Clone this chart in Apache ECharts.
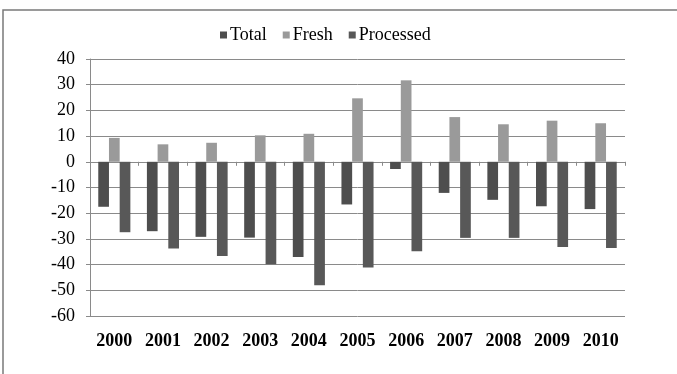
<!DOCTYPE html>
<html>
<head>
<meta charset="utf-8">
<script src="https://cdn.jsdelivr.net/npm/echarts@6/dist/echarts.min.js"></script>
<style>
  html, body { margin: 0; padding: 0; background: #fff; }
  #chart { width: 677px; height: 374px; }
</style>
</head>
<body>
<div id="chart"></div>
<script>
// Trade balance by year: total, fresh and processed
const years = ['2000', '2001', '2002', '2003', '2004', '2005', '2006', '2007', '2008', '2009', '2010'];
const total = [-17.5, -27.0, -29.2, -29.5, -37.0, -16.6, -2.8, -12.1, -14.8, -17.3, -18.4];
const fresh = [9.3, 6.8, 7.4, 10.3, 10.9, 24.7, 31.7, 17.4, 14.6, 16.0, 15.0];
const processed = [-27.4, -33.7, -36.7, -39.9, -48.0, -41.1, -34.8, -29.6, -29.6, -33.2, -33.5];
const yTicks = { min: -60, max: 40, step: 10 };

const serif = '"Liberation Serif", "DejaVu Serif", serif';
const gridColor = '#8a8a8a';

const chart = echarts.init(document.getElementById('chart'), null, { renderer: 'canvas' });

chart.setOption({
  animation: false,
  backgroundColor: '#fff',
  graphic: [{
    type: 'polyline',
    shape: { points: [[3, 380], [3, 10], [680, 10]] },
    style: { stroke: '#7a7a7a', lineWidth: 1.5, fill: null }
  }],
  legend: {
    top: 21,
    left: 215,
    itemWidth: 7,
    itemHeight: 7,
    itemGap: 16,
    icon: 'rect',
    textStyle: { fontFamily: serif, fontSize: 18, color: '#000', padding: [0, 0, 0, -2] },
    data: ['Total', 'Fresh', 'Processed']
  },
  grid: { left: 90, right: 52, top: 59, bottom: 58 },
  xAxis: [{
    type: 'category',
    data: years,
    axisLine: { onZero: true, lineStyle: { color: gridColor, width: 1 } },
    axisTick: { show: true, length: 4, lineStyle: { color: gridColor } },
    axisLabel: { show: false }
  }, {
    type: 'category',
    data: years,
    position: 'bottom',
    axisLine: { show: false },
    axisTick: { show: false },
    axisLabel: {
      show: true,
      margin: 16,
      fontFamily: serif,
      fontWeight: 'bold',
      fontSize: 18,
      color: '#000'
    }
  }],
  yAxis: {
    type: 'value',
    min: yTicks.min,
    max: yTicks.max,
    interval: yTicks.step,
    axisLine: { show: true, lineStyle: { color: gridColor, width: 1 } },
    axisTick: { show: true, length: 4, lineStyle: { color: gridColor } },
    axisLabel: { margin: 15, fontFamily: serif, fontSize: 18, color: '#000' },
    splitLine: { show: true, lineStyle: { color: gridColor, width: 1 } }
  },
  series: [{
    name: 'Total',
    type: 'bar',
    data: total,
    barGap: '0%',
    barCategoryGap: '34%',
    itemStyle: { color: '#4e4e4e' }
  }, {
    name: 'Fresh',
    type: 'bar',
    data: fresh,
    itemStyle: { color: '#9a9a9a' }
  }, {
    name: 'Processed',
    type: 'bar',
    data: processed,
    itemStyle: { color: '#585858' }
  }]
});
</script>
</body>
</html>
